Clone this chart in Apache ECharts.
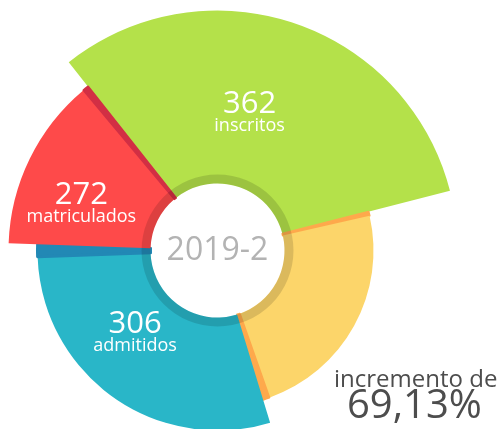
<!DOCTYPE html>
<html>
<head>
<meta charset="utf-8">
<script src="https://cdn.jsdelivr.net/npm/echarts@6/dist/echarts.min.js"></script>
<style>
  html, body { margin: 0; padding: 0; background: #fff; }
  #chart { width: 502px; height: 429px; }
</style>
</head>
<body>
<div id="chart"></div>
<script>
// slices, clockwise from the upper left edge
const names = ["inscritos", "", "admitidos", "matriculados"];
const counts = [362, null, 306, 272];
// angular share of each slice, in degrees of the full turn
const shares = [113.9, 87.4, 109, 49.7];
const period = "2019-2";
const increment = "69,13%";

const center = [217.5, 250.5];
const inner = 67;
const startAt = 128.3;

// per slice: outer radius, colors, thin darker bands (degrees, border width) and label nudge
const looks = [
  { r: 240, color: "#b4e14a", bands: [], pad: [22, 36, 0, 0] },
  { r: 156, color: "#fcd56a", band: "#fea94c", bands: [1.5, 2.4], edge: 2 },
  { r: 180, color: "#29b6c8", band: "#2288b5", bands: [0, 4], edge: 3, pad: [0, 18, 40, 0] },
  { r: 209, color: "#fe4a4a", band: "#d22f44", bands: [0, 1.6], edge: 2, pad: [32, 19, 0, 0] }
];

const hidden = { color: "rgba(0,0,0,0)" };
const font = "'Open Sans', sans-serif";

function bandItem(value, look) {
  return {
    value: value,
    itemStyle: { color: look.band, borderColor: look.band, borderWidth: look.edge }
  };
}

const series = [];
let angle = startAt;
shares.forEach(function (share, i) {
  const look = looks[i];
  const before = look.bands[0] || 0;
  const after = look.bands[1] || 0;
  const data = [];
  if (before) data.push(bandItem(before, look));
  data.push({
    value: share - before - after,
    name: names[i],
    itemStyle: { color: look.color },
    label: counts[i] == null ? { show: false } : {
      show: true,
      position: "inside",
      padding: look.pad,
      formatter: "{v|" + counts[i] + "}\n{n|" + names[i] + "}",
      rich: {
        v: { fontFamily: font, fontSize: 31, color: "#fff", lineHeight: 25, align: "center" },
        n: { fontFamily: font, fontSize: 18, color: "#fff", lineHeight: 19, align: "center" }
      }
    }
  });
  if (after) data.push(bandItem(after, look));
  data.push({ value: 360 - share, itemStyle: hidden });

  series.push({
    type: "pie",
    center: center,
    radius: [inner, look.r],
    startAngle: angle,
    clockwise: true,
    silent: true,
    animation: false,
    label: { show: false },
    labelLine: { show: false },
    emphasis: { disabled: true },
    data: data
  });
  angle -= share;
});

// shaded ring round the hole, with the period in the middle
series.push({
  type: "pie",
  center: center,
  radius: [inner, 76],
  silent: true,
  animation: false,
  emphasis: { disabled: true },
  labelLine: { show: false },
  label: {
    show: true,
    position: "center",
    formatter: period,
    fontFamily: font,
    fontSize: 32,
    color: "#b3b3b3"
  },
  data: [{ value: 1, itemStyle: { color: "rgba(0,0,0,0.13)" } }]
});

const chart = echarts.init(document.getElementById("chart"));
chart.setOption({
  backgroundColor: "#fff",
  animation: false,
  series: series,
  graphic: [
    {
      type: "text",
      left: 334,
      top: 368,
      style: { text: "incremento de", font: "24px " + font, fill: "#4d4d4d" }
    },
    {
      type: "text",
      left: 347,
      top: 387,
      style: { text: increment, font: "40px " + font, fill: "#4d4d4d" }
    }
  ]
});
</script>
</body>
</html>
